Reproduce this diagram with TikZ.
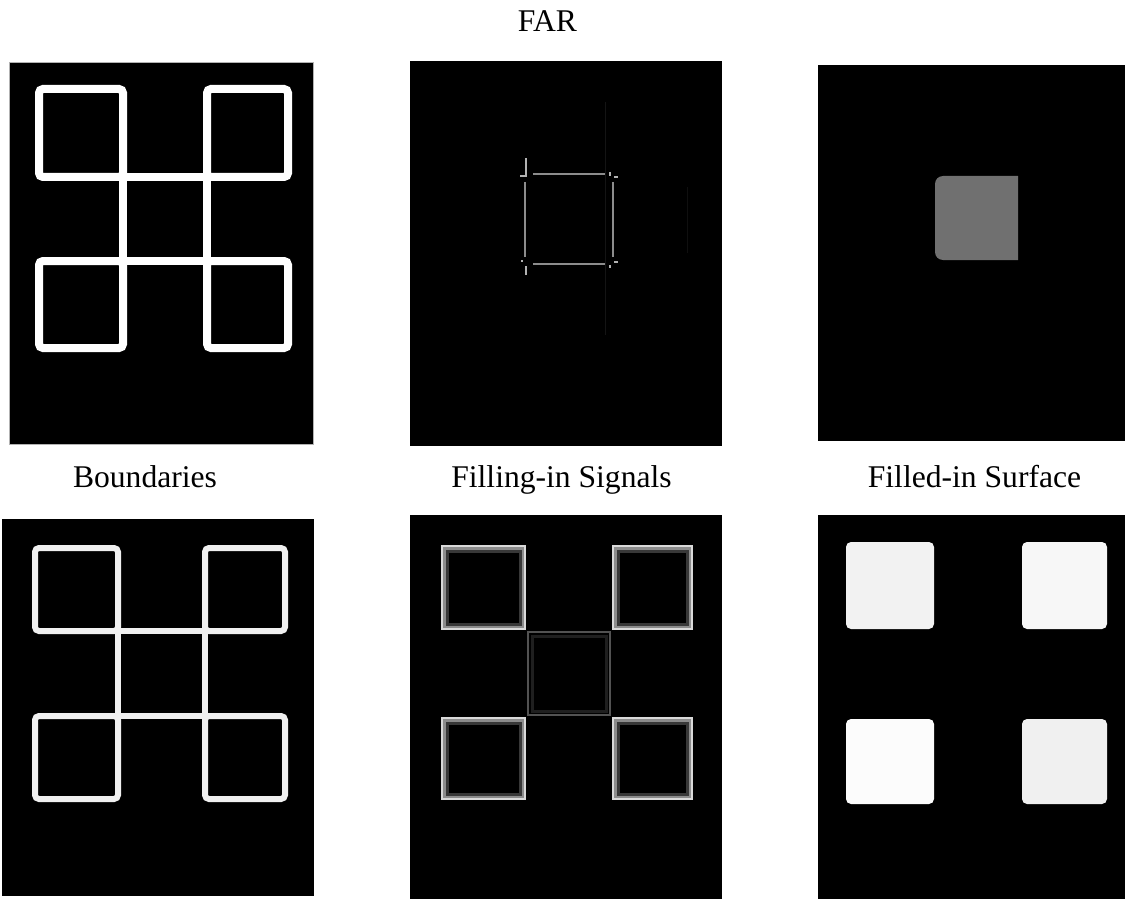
\documentclass[tikz,border=0pt]{standalone}
\usepackage{fontspec}
\setmainfont{Liberation Serif}
\begin{document}
\begin{tikzpicture}[
        x=0.5pt, y=-0.5pt,
        panel/.style={fill=black},
        edge/.style={white, line width=4pt},
        softedge/.style={white!94!black, line width=3pt},
        rim/.style={draw=white!85!black, line width=1pt},
        glow/.style={draw=white!55!black, line width=1.5pt},
        haze/.style={draw=white!22!black, line width=1.5pt},
        blob/.style={rounded corners=2.5pt},
        caption/.style={font=\fontsize{15.8}{19}\selectfont, anchor=base},
    ]
    \useasboundingbox (0,0) rectangle (1125,899);

    % Title and captions
    \node[caption] (far) at (547.5,32) {FAR};
    \node[caption] (bnd) at (145,487) {Boundaries};
    \node[caption] (sig) at (561.5,487) {Filling-in Signals};
    \node[caption] (srf) at (974.5,487) {Filled-in Surface};

    % Black panels
    \fill[panel, draw=gray!60, line width=0.4pt] (9,62) rectangle (313,444);
    \fill[panel] (410,61) rectangle (722,446);
    \fill[panel] (818,65) rectangle (1125,441);
    \fill[panel] (2,519) rectangle (314,896);
    \fill[panel] (410,515) rectangle (722,899);
    \fill[panel] (818,515) rectangle (1125,899);

    % FAR: boundaries
    \foreach \xa/\xb in {39/123, 207/288}
        \foreach \ya/\yb in {89/177, 261/348}
            \draw[edge, rounded corners=2pt] (\xa,\ya) rectangle (\xb,\yb);
    \draw[edge] (123,177) -- (207,177);
    \draw[edge] (123,261) -- (207,261);
    \draw[edge] (123,177) -- (123,261);
    \draw[edge] (207,177) -- (207,261);

    % FAR: filling-in signals
    \draw[white!8!black, line width=0.4pt] (605,102) -- (605,335);
    \draw[white!6!black, line width=0.4pt] (687,187) -- (687,253);
    \draw[white!55!black, line width=1pt] (525,182) -- (525,257);
    \draw[white!55!black, line width=1pt] (613,182) -- (613,257);
    \draw[white!55!black, line width=1.2pt] (533,174) -- (605,174);
    \draw[white!55!black, line width=1.2pt] (533,264) -- (605,264);
    \draw[white!70!black, line width=0.8pt] (526,158) -- (526,176) -- (520,176);
    \draw[white!70!black, line width=0.8pt] (526,266) -- (526,275);
    \draw[white!70!black, line width=0.8pt] (610,172) -- (610,176) (614,177) -- (618,177);
    \draw[white!70!black, line width=0.8pt] (610,265) -- (610,268) (614,262) -- (618,262);
    \draw[white!70!black, line width=0.8pt] (521,261) -- (523,261);

    % FAR: filled-in surface
    \fill[white!44!black] (1018,176) [rounded corners=4pt] -- (935,176) -- (935,260)
        [sharp corners] -- (1018,260) -- cycle;

    % NEAR: boundaries
    \foreach \xa/\xb in {35/118, 205/285}
        \foreach \ya/\yb in {548/631, 716/799}
            \draw[softedge, rounded corners=2pt] (\xa,\ya) rectangle (\xb,\yb);
    \draw[softedge] (118,631) -- (205,631);
    \draw[softedge] (118,716) -- (205,716);
    \draw[softedge] (118,631) -- (118,716);
    \draw[softedge] (205,631) -- (205,716);

    % NEAR: filling-in signals
    \foreach \xa/\xb in {441/526, 612/693}
        \foreach \ya/\yb in {545/630, 717/800} {
            \draw[haze] (\xa+6,\ya+6) rectangle (\xb-6,\yb-6);
            \draw[glow] (\xa+3,\ya+3) rectangle (\xb-3,\yb-3);
            \draw[rim] (\xa+1,\ya+1) rectangle (\xb-1,\yb-1);
        }
    \draw[white!12!black, line width=1.5pt] (532,636) rectangle (606,711);
    \draw[white!32!black, line width=1pt] (528,632) rectangle (610,715);

    % NEAR: filled-in surface
    \fill[white!95!black, blob] (846,542) rectangle (934,629);
    \fill[white!97!black, blob] (1022,542) rectangle (1107,629);
    \fill[white!99!black, blob] (846,719) rectangle (934,804);
    \fill[white!94!black, blob] (1022,719) rectangle (1107,804);

\end{tikzpicture}
\end{document}
